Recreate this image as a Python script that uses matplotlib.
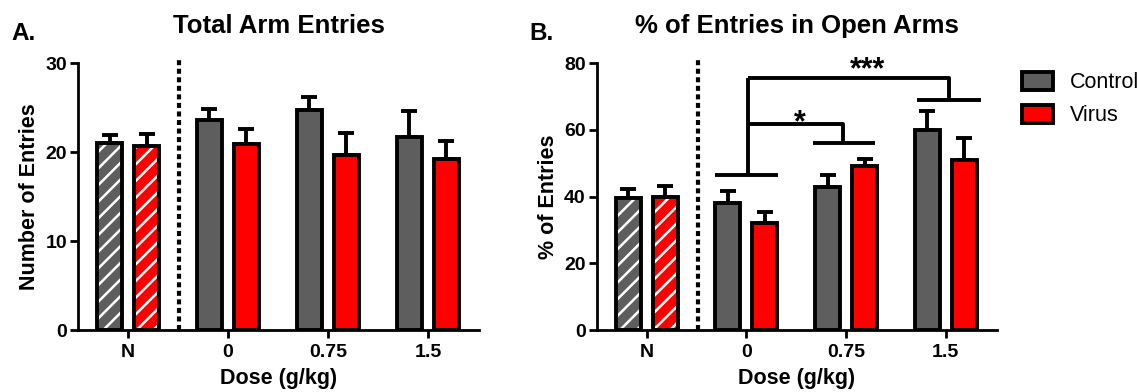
import numpy as np
import matplotlib
matplotlib.use("Agg")
import matplotlib.pyplot as plt
from matplotlib.patches import Patch

plt.rcParams['font.family'] = ['Liberation Sans', 'DejaVu Sans']
plt.rcParams['hatch.linewidth'] = 1.8

groups = ['N', '0', '0.75', '1.5']

# Total arm entries (mean, SEM)
entries_ctrl = [21.0, 23.6, 24.7, 21.7]
entries_ctrl_err = [0.9, 1.2, 1.5, 2.9]
entries_virus = [20.7, 20.9, 19.7, 19.2]
entries_virus_err = [1.3, 1.7, 2.5, 2.1]

# % of entries in open arms (mean, SEM)
open_ctrl = [39.7, 38.0, 43.0, 60.0]
open_ctrl_err = [2.5, 3.7, 3.6, 5.6]
open_virus = [40.0, 32.2, 49.3, 51.0]
open_virus_err = [3.2, 3.1, 2.1, 6.5]

ctrl_color = '#5e5e5e'
virus_color = '#ff0000'

fig = plt.figure(figsize=(11.39, 3.92), dpi=100)
axA = fig.add_axes([0.0685, 0.158, 0.352, 0.681])
axB = fig.add_axes([0.524, 0.158, 0.351, 0.681])

x = np.arange(len(groups))
w = 0.25
off = 0.185
lw = 2.8


def draw_panel(ax, ctrl, ctrl_err, virus, virus_err, ymax, step):
    for vals, errs, col, sign in [(ctrl, ctrl_err, ctrl_color, -1), (virus, virus_err, virus_color, 1)]:
        xs = x + sign * off
        # hatched N bars: white hatch first, then black outline
        ax.bar(xs[:1], vals[:1], w, color=col, hatch='//', edgecolor='white', linewidth=0, zorder=2)
        ax.bar(xs[1:], vals[1:], w, color=col, linewidth=0, zorder=2)
        ax.bar(xs, vals, w, fill=False, edgecolor='black', linewidth=lw, zorder=3)
        ax.errorbar(xs, vals, yerr=[np.zeros(len(errs)), errs], fmt='none', ecolor='black',
                    elinewidth=lw, capsize=5.5, capthick=lw, zorder=1)
    ax.axvline(0.51, ymin=0, ymax=1.02, color='black', linestyle=(0, (1.2, 0.85)), linewidth=3.0, clip_on=False)
    ax.set_xlim(-0.5, 3.51)
    ax.set_ylim(0, ymax)
    ax.set_yticks(np.arange(0, ymax + 1, step))
    ax.set_xticks(x)
    ax.set_xticklabels(groups)
    for s in ['top', 'right']:
        ax.spines[s].set_visible(False)
    for s in ['left', 'bottom']:
        ax.spines[s].set_linewidth(2.0)
    ax.tick_params(axis='both', direction='out', length=6, width=2.0, labelsize=14, pad=2)
    ax.tick_params(axis='x', pad=4)
    for lab in ax.get_xticklabels() + ax.get_yticklabels():
        lab.set_fontweight('bold')
    ax.set_xlabel('Dose (g/kg)', fontsize=15.5, fontweight='bold', labelpad=5)


draw_panel(axA, entries_ctrl, entries_ctrl_err, entries_virus, entries_virus_err, 30, 10)
axA.set_ylabel('Number of Entries', fontsize=15.5, fontweight='bold', labelpad=4)
axA.set_title('Total Arm Entries', fontsize=18.5, fontweight='bold', pad=22)

draw_panel(axB, open_ctrl, open_ctrl_err, open_virus, open_virus_err, 80, 20)
axB.set_ylabel('% of Entries', fontsize=15.5, fontweight='bold', labelpad=4)
axB.set_title('% of Entries in Open Arms', fontsize=18.5, fontweight='bold', pad=22)

# significance brackets
kw = dict(color='black', linewidth=lw, clip_on=False, solid_capstyle='butt')
axB.plot([0.69, 1.32], [46.4, 46.4], **kw)
axB.plot([1.67, 2.29], [56.0, 56.0], **kw)
axB.plot([2.71, 3.35], [68.9, 68.9], **kw)
axB.plot([1.02, 1.02], [46.4, 75.5], **kw)
axB.plot([1.02, 1.97, 1.97], [61.7, 61.7, 56.0], **kw)
axB.plot([1.02, 3.03, 3.03], [75.5, 75.5, 68.9], **kw)
axB.text(1.54, 57.5, '*', ha='center', va='bottom', fontsize=22, fontweight='bold')
axB.text(2.22, 73.4, '***', ha='center', va='bottom', fontsize=22, fontweight='bold')

fig.text(0.010, 0.915, 'A.', fontsize=17.5, fontweight='bold', va='center')
fig.text(0.465, 0.915, 'B.', fontsize=17.5, fontweight='bold', va='center')

handles = [Patch(facecolor=ctrl_color, edgecolor='black', linewidth=lw, label='Control'),
           Patch(facecolor=virus_color, edgecolor='black', linewidth=lw, label='Virus')]
fig.legend(handles=handles, loc='upper left', bbox_to_anchor=(0.880, 0.866), frameon=False,
           fontsize=15.5, handlelength=1.45, handleheight=0.9, handletextpad=0.8, labelspacing=0.55)

fig.savefig('out.png', dpi=100)
